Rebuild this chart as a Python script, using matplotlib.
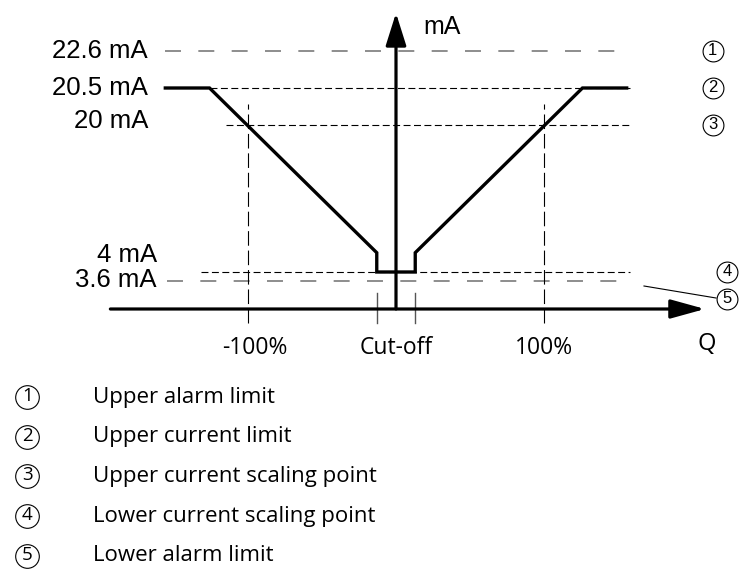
import numpy as np
import matplotlib
matplotlib.use("Agg")
import matplotlib.pyplot as plt
from matplotlib.lines import Line2D

plt.rcParams['lines.scale_dashes'] = False

# current levels (mA), their labels and legend texts
level_ma = [22.6, 20.5, 20.0, 4.0, 3.6]
level_labels = ["22.6 mA", "20.5 mA", "20 mA", "4 mA", "3.6 mA"]
level_marks = ["1", "2", "3", "4", "5"]
legend_texts = ["Upper alarm limit", "Upper current limit",
                "Upper current scaling point", "Lower current scaling point",
                "Lower alarm limit"]
# where each reference line starts / ends (Q in %)
level_start_q = [-156, -126, -115, -132, -155]
level_end_q = 158

# output current vs flow Q
q_pct = [-157, -126, -13, -13, 13, 13, 126, 157]
current_ma = [20.5, 20.5, 6.1, 4.0, 4.0, 6.1, 20.5, 20.5]

# Q axis marks
tick_q = [-100, 0, 100]
tick_labels = ["-100%", "Cut-off", "100%"]
cutoff_q = [-13, 13]

# schematic (not to scale) vertical mapping of the mA axis
ma_knots = [-10, 0, 3.6, 4, 20, 20.5, 22.6, 30]
pos_knots = [-78, 0, 28, 37, 184, 221, 258, 388]


def fwd(v):
    return np.interp(v, ma_knots, pos_knots)


def inv(p):
    return np.interp(p, pos_knots, ma_knots)


W, H = 739, 573
fig = plt.figure(figsize=(W / 100, H / 100), dpi=100)
ax = fig.add_axes([0, (H - 370) / H, 1, 370 / H])
ax.set_yscale('function', functions=(fwd, inv))
ax.set_xlim(-396 / 1.48, (W - 396) / 1.48)
ax.set_ylim(inv(309 - 370), inv(309))
ax.axis('off')

arial = 'Liberation Sans'
segoe = 'Open Sans'
gray = '#7a7a7a'

# reference lines
for i, (lv, x0) in enumerate(zip(level_ma, level_start_q)):
    if i in (0, 4):
        ax.plot([x0, level_end_q], [lv, lv], color=gray, lw=1.2,
                dashes=(11.5, 12.5), solid_capstyle='butt')
    else:
        ax.plot([x0, level_end_q], [lv, lv], color='k', lw=0.8,
                dashes=(5, 2.5))

# +-100 % verticals and cut-off ticks
for q in (tick_q[0], tick_q[2]):
    ax.plot([q, q], [inv(-14), inv(205)], color='k', lw=0.8,
            dashes=(10.5, 3.5))
for q in cutoff_q:
    ax.plot([q, q], [inv(-14), inv(16)], color='#555555', lw=1.0)

# output curve
ax.plot(q_pct, current_ma, color='k', lw=2.4, solid_capstyle='butt',
        solid_joinstyle='miter')

# axes with arrows
x_tip = (705 - 396) / 1.48
y_tip = inv(309 - 13)
ax.annotate('', xy=(x_tip, 0), xytext=(-193, 0),
            arrowprops=dict(arrowstyle='-|>,head_length=21,head_width=5.8',
                            mutation_scale=1, lw=2.3, color='k',
                            shrinkA=0, shrinkB=0))
ax.annotate('', xy=(0, y_tip), xytext=(0, 0),
            arrowprops=dict(arrowstyle='-|>,head_length=20,head_width=6.3',
                            mutation_scale=1, lw=2.3, color='k',
                            shrinkA=0, shrinkB=0))
ax.annotate('mA', xy=(0, y_tip), xytext=(20, -10), textcoords='offset points',
            ha='left', va='center', fontsize=18, family=arial)
ax.annotate('Q', xy=(x_tip, 0), xytext=(1.5, -25), textcoords='offset points',
            ha='center', va='center', fontsize=17, family=segoe)

# level labels on the left
label_q = [-167.6, -167.6, -167.6, -161.5, -161.5]
label_dy = [0, 0, 3, 12, 0.5]
for lv, txt, lq, dy in zip(level_ma, level_labels, label_q, label_dy):
    ax.annotate(txt, xy=(lq, lv), xytext=(0, dy), textcoords='offset points',
                ha='right', va='center', fontsize=18.5, family=arial)

# Q labels
tick_dx = [5, 0, 0]
for q, txt, dx in zip(tick_q, tick_labels, tick_dx):
    ax.annotate(txt, xy=(q, 0), xytext=(dx, -28), textcoords='offset points',
                ha='center', va='center', fontsize=16.5, family=segoe)

# circled numbers on the right
mark_q = [214, 214, 214, 223.6, 223.6]
mark_ma = [22.6, 20.5, 20.0, 4.0, inv(10)]
for q, m, n in zip(mark_q, mark_ma, level_marks):
    ax.plot([q], [m], marker='o', ms=15, mfc='white', mec='k', mew=0.8,
            clip_on=False)
    ax.annotate(n, xy=(q, m), xytext=(0, 0.7), textcoords='offset points',
                ha='center', va='center', fontsize=12, family=arial)
ax.plot([(644 - 396) / 1.48, (716 - 396) / 1.48], [inv(309 - 286), inv(309 - 298)],
        color='k', lw=0.8)

# legend below the chart
for i, (n, txt) in enumerate(zip(level_marks, legend_texts)):
    y = 1 - (397 + 39.7 * i) / H
    fig.add_artist(Line2D([27.5 / W], [y], marker='o', ms=17, mfc='none',
                          mec='k', mew=0.8, transform=fig.transFigure))
    fig.text(27.5 / W, y + 1 / H, n, ha='center', va='center', fontsize=13.5,
             family=segoe)
    fig.text(93 / W, y, txt, ha='left', va='center', fontsize=16,
             family=segoe)

fig.savefig('out.png', dpi=100)
